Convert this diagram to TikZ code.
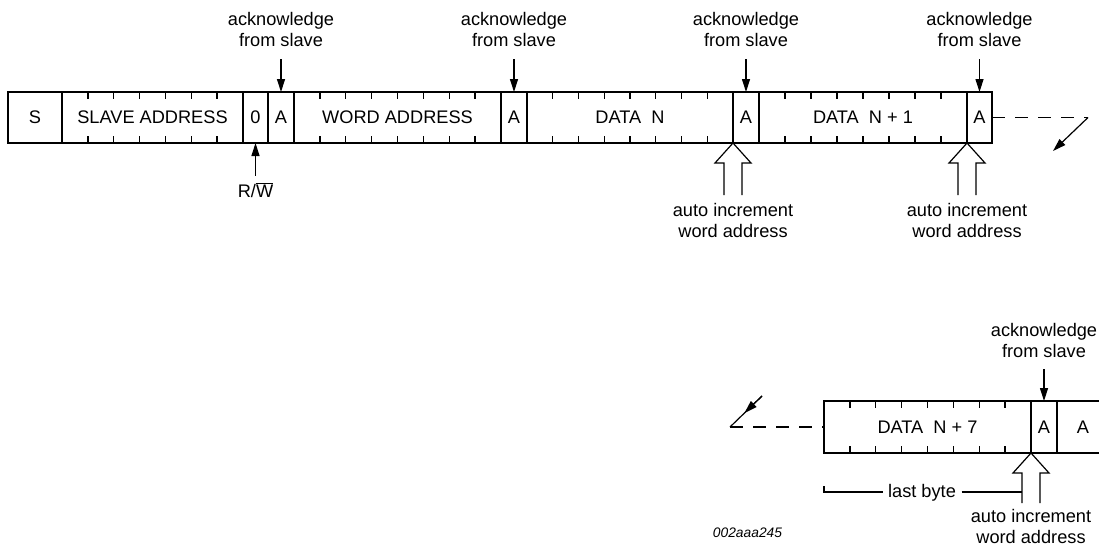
\documentclass[tikz,border=0pt]{standalone}
\usepackage{fontspec}
\setmainfont{Liberation Sans}
\usetikzlibrary{arrows.meta,calc}
\newcommand\hollowarrow[2]{%
  \draw[line join=miter] ($(#1)+(-9,#2)$) -- ($(#1)+(-9,20)$) -- ($(#1)+(-18,20)$) -- (#1)
    -- ($(#1)+(18,20)$) -- ($(#1)+(9,20)$) -- ($(#1)+(9,#2)$);}
\begin{document}
\begin{tikzpicture}[x=1pt,y=-1pt,
  line width=1.2pt,
  every node/.style={font=\fontsize{18.2}{21}\selectfont},
  field/.style={draw, line width=1.2pt, minimum height=51pt, inner sep=0pt, outer sep=0pt},
  lbl/.style={align=center, inner sep=0pt},
  ack/.style={-{Triangle[length=13pt,width=8pt]}},
  bittick/.style={line width=1.3pt},
  cont/.style={dash pattern=on 13pt off 10pt}
]
\useasboundingbox (0,0) rectangle (1099,552);

% ---------- top row ----------
\node[field, minimum width=54pt]  (s)   at (35,117.5)  {S};
\node[field, minimum width=181pt] (sa)  at (152.5,117.5) {SLAVE ADDRESS};
\node[field, minimum width=25pt]  (zero) at (255.5,117.5) {0};
\node[field, minimum width=26pt]  (a1)  at (281,117.5) {A};
\node[field, minimum width=207pt] (wa)  at (397.5,117.5) {WORD ADDRESS};
\node[field, minimum width=26pt]  (a2)  at (514,117.5) {A};
\node[field, minimum width=206pt] (dn)  at (630,117.5) {DATA\ \ N};
\node[field, minimum width=26pt]  (a3)  at (746,117.5) {A};
\node[field, minimum width=208pt] (dn1) at (863,117.5) {DATA\ \ N + 1};
\node[field, minimum width=25pt]  (a4)  at (979.5,117.5) {A};

% ---------- bottom row ----------
\node[field, minimum width=207pt, minimum height=52pt] (n7) at (927.5,427) {DATA\ \ N + 7};
\node[field, minimum width=26pt, minimum height=52pt]  (a5) at (1044,427) {A};
\node[field, minimum width=52pt, minimum height=52pt]  (a6) at (1083,427) {A};

% bit ticks
\foreach \x in {87.86,113.71,139.57,165.43,191.29,217.14}{
  \draw[bittick] (\x,92) -- (\x,99);
  \draw[bittick] (\x,143) -- (\x,136);
}
\foreach \l/\w in {294/207,527/206,759/208}{
  \foreach \k in {1,...,7}{
    \draw[bittick] ({\l+\k*\w/8},92) -- ({\l+\k*\w/8},99);
    \draw[bittick] ({\l+\k*\w/8},143) -- ({\l+\k*\w/8},136);
  }
}
\foreach \k in {1,...,7}{
  \draw[bittick] ({824+\k*207/8},401) -- ({824+\k*207/8},408);
  \draw[bittick] ({824+\k*207/8},453) -- ({824+\k*207/8},446);
}

% acknowledge labels
\foreach \b/\n in {a1/k1,a2/k2,a3/k3,a4/k4}{
  \node[lbl, anchor=south] (\n) at ($(\b.north)+(0,-45)$) {acknowledge\\from slave};
  \draw[ack] ([yshift=-12pt]\n.south) -- (\b.north);
}

% R/W
\node[anchor=base, inner sep=0pt] (rw) at (255.5,197) {R/$\overline{\mbox{W}}$};
\draw[ack] ([yshift=6pt]rw.north) -- (zero.south);

% auto increment (top)
\coordinate (t1) at (dn.south east);
\coordinate (t2) at (dn1.south east);
\hollowarrow{t1}{52}
\hollowarrow{t2}{52}
\node[lbl, anchor=north] (inc1) at ($(t1)+(0,60)$) {auto increment\\word address};
\node[lbl, anchor=north] (inc2) at ($(t2)+(0,60)$) {auto increment\\word address};

% continuation (top)
\coordinate (c1) at (1088,117.5);
\coordinate (c2) at (1053,151);
\draw[cont] (a4.east) -- (c1);
\draw[ack] (c1) -- (c2);

\node[lbl, anchor=south] (k5) at ($(a5.north)+(0,-43)$) {acknowledge\\from slave};
\draw[ack] ([yshift=-11pt]k5.south) -- (a5.north);

% continuation (bottom)
\coordinate (d1) at (730,427);
\coordinate (d2) at (762,396);
\draw[cont] (d1) -- (n7.west);
\draw (d1) -- (d2);
\draw[ack] (d2) -- ($(d1)!0.45!(d2)$);

% auto increment (bottom)
\coordinate (t3) at (n7.south east);
\hollowarrow{t3}{50}
\node[lbl, anchor=north] (inc3) at ($(t3)+(0,56)$) {auto increment\\word address};

% last byte
\node[anchor=base, inner sep=0pt] (lb) at (922,497) {last byte};
\coordinate (lbL) at (824,492);
\coordinate (lbR) at ($(t3)+(-9,39)$);
\draw ($(lbL)+(0,-6)$) -- (lbL) -- ($(lb.west |- lbL)+(-5,0)$);
\draw ($(lb.east |- lbL)+(5,0)$) -- (lbR);

% id
\node[anchor=base, inner sep=0pt, font=\fontsize{13.8}{16}\selectfont\itshape] (id) at (747.5,537) {002aaa245};
\end{tikzpicture}
\end{document}
